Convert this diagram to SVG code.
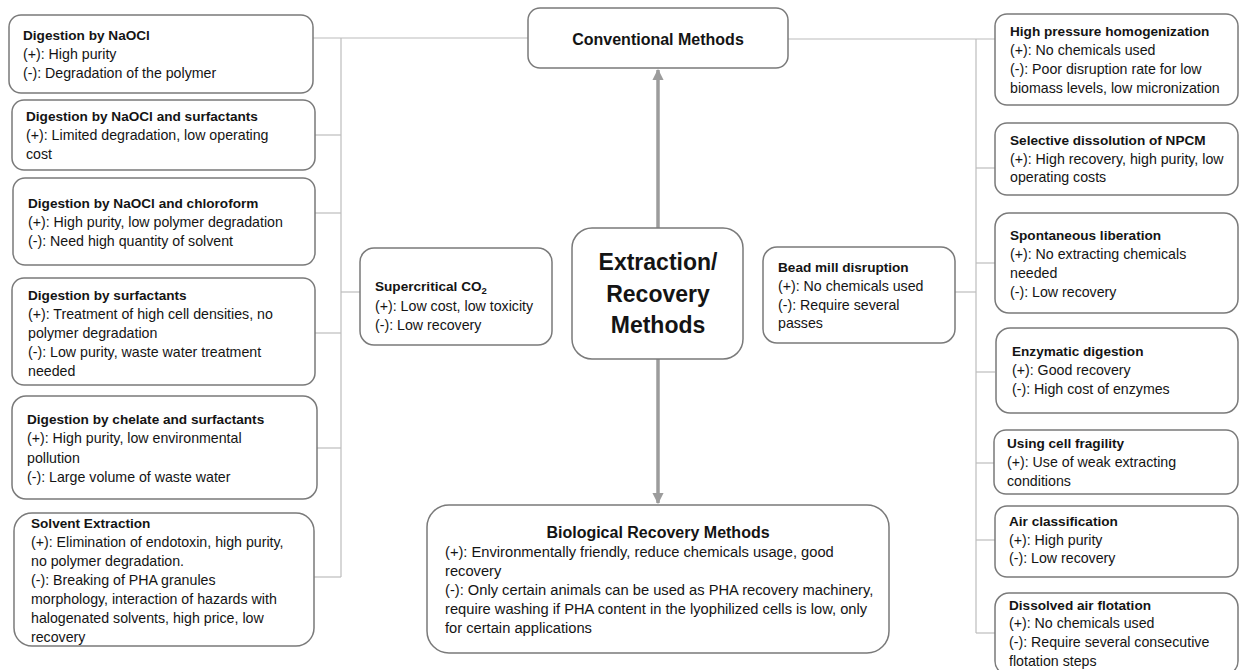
<svg xmlns="http://www.w3.org/2000/svg" width="1239" height="670" viewBox="0 0 1239 670">
<style>
.box{fill:#fff;stroke:#7a7a7a;stroke-width:1.5}
.t{font-family:"Liberation Sans",Arial,sans-serif;font-size:14.2px;fill:#141414}
.b{font-weight:bold;font-size:13.6px}
.conn{stroke:#bcbcbc;stroke-width:1.2;fill:none}
.arr{stroke:#9c9c9c;stroke-width:3.5;fill:none}
</style>
<defs>
<marker id="ah" viewBox="0 0 10 10" refX="9" refY="5" markerWidth="3.2" markerHeight="3.2" orient="auto-start-reverse" markerUnits="strokeWidth">
<path d="M0,0 L10,5 L0,10 Z" fill="#9c9c9c"/>
</marker>
</defs>
<rect width="1239" height="670" fill="#fff"/>
<g id="connectors">
<path class="conn" d="M313,38 H528"/>
<path class="conn" d="M341,38 V577"/>
<path class="conn" d="M315,135 H341"/>
<path class="conn" d="M315,213 H341"/>
<path class="conn" d="M341,292 H360"/>
<path class="conn" d="M315,333 H341"/>
<path class="conn" d="M317,448 H341"/>
<path class="conn" d="M314,577 H341"/>
<path class="conn" d="M788,39 H995"/>
<path class="conn" d="M976,39 V633"/>
<path class="conn" d="M976,168 H995"/>
<path class="conn" d="M976,263 H995"/>
<path class="conn" d="M955,292 H976"/>
<path class="conn" d="M976,372 H995"/>
<path class="conn" d="M976,463 H995"/>
<path class="conn" d="M976,540 H995"/>
<path class="conn" d="M976,633 H995"/>
<line class="arr" x1="658" y1="228" x2="658" y2="70" marker-end="url(#ah)"/>
<line class="arr" x1="658" y1="359" x2="658" y2="503" marker-end="url(#ah)"/>
</g>
<g id="conventional">
<rect class="box" x="528" y="8" width="260" height="60" rx="12"/>
<text class="t" x="658" y="45" text-anchor="middle" style="font-weight:bold;font-size:16px">Conventional Methods</text>
</g>
<g id="center">
<rect class="box" x="572" y="228" width="171" height="131" rx="20"/>
<text class="t" text-anchor="middle" style="font-weight:bold;font-size:23px"><tspan x="658" y="270">Extraction/</tspan><tspan x="658" y="302">Recovery</tspan><tspan x="658" y="333">Methods</tspan></text>
</g>
<g id="biological">
<rect class="box" x="427" y="505" width="462" height="148" rx="22"/>
<text class="t" x="658" y="538" text-anchor="middle" style="font-weight:bold;font-size:16px">Biological Recovery Methods</text>
<text class="t" style="font-size:14.7px"><tspan x="445" y="557">(+): Environmentally friendly, reduce chemicals usage, good</tspan><tspan x="445" y="576">recovery</tspan><tspan x="445" y="595">(-): Only certain animals can be used as PHA recovery machinery,</tspan><tspan x="445" y="614">require washing if PHA content in the lyophilized cells is low, only</tspan><tspan x="445" y="633">for certain applications</tspan></text>
</g>
<g id="naocl">
<rect class="box" x="9" y="15" width="304" height="78" rx="12"/>
<text class="t b" x="23" y="40">Digestion by NaOCl</text>
<text class="t"><tspan x="23" y="59">(+): High purity</tspan><tspan x="23" y="78">(-): Degradation of the polymer</tspan></text>
</g>
<g id="naocl-surfactants">
<rect class="box" x="12" y="100" width="303" height="70" rx="12"/>
<text class="t b" x="26" y="121">Digestion by NaOCl and surfactants</text>
<text class="t"><tspan x="26" y="140">(+): Limited degradation, low operating</tspan><tspan x="26" y="159">cost</tspan></text>
</g>
<g id="naocl-chloroform">
<rect class="box" x="13" y="178" width="302" height="87" rx="12"/>
<text class="t b" x="28" y="208">Digestion by NaOCl and chloroform</text>
<text class="t"><tspan x="28" y="227">(+): High purity, low polymer degradation</tspan><tspan x="28" y="246">(-): Need high quantity of solvent</tspan></text>
</g>
<g id="surfactants">
<rect class="box" x="12" y="278" width="303" height="107" rx="12"/>
<text class="t b" x="28" y="300">Digestion by surfactants</text>
<text class="t"><tspan x="28" y="319">(+): Treatment of high cell densities, no</tspan><tspan x="28" y="338">polymer degradation</tspan><tspan x="28" y="357">(-): Low purity, waste water treatment</tspan><tspan x="28" y="376">needed</tspan></text>
</g>
<g id="chelate">
<rect class="box" x="12" y="396" width="305" height="103" rx="14"/>
<text class="t b" x="27" y="424">Digestion by chelate and surfactants</text>
<text class="t"><tspan x="27" y="443">(+): High purity, low environmental</tspan><tspan x="27" y="463">pollution</tspan><tspan x="27" y="482">(-): Large volume of waste water</tspan></text>
</g>
<g id="solvent">
<rect class="box" x="14" y="513" width="300" height="133" rx="18"/>
<text class="t b" x="31" y="528">Solvent Extraction</text>
<text class="t"><tspan x="31" y="547">(+): Elimination of endotoxin, high purity,</tspan><tspan x="31" y="566">no polymer degradation.</tspan><tspan x="31" y="585">(-): Breaking of PHA granules</tspan><tspan x="31" y="604">morphology, interaction of hazards with</tspan><tspan x="31" y="623">halogenated solvents, high price, low</tspan><tspan x="31" y="642">recovery</tspan></text>
</g>
<g id="supercritical">
<rect class="box" x="360" y="248" width="192" height="97" rx="14"/>
<text class="t b" x="375" y="291">Supercritical CO<tspan dy="3" style="font-size:9.5px">2</tspan></text>
<text class="t"><tspan x="375" y="311">(+): Low cost, low toxicity</tspan><tspan x="375" y="330">(-): Low recovery</tspan></text>
</g>
<g id="bead-mill">
<rect class="box" x="763" y="247" width="192" height="96" rx="14"/>
<text class="t b" x="778" y="272">Bead mill disruption</text>
<text class="t"><tspan x="778" y="291">(+): No chemicals used</tspan><tspan x="778" y="310">(-): Require several</tspan><tspan x="778" y="328">passes</tspan></text>
</g>
<g id="hp-homogenization">
<rect class="box" x="995" y="14" width="243" height="91" rx="12"/>
<text class="t b" x="1010" y="36">High pressure homogenization</text>
<text class="t"><tspan x="1010" y="55">(+): No chemicals used</tspan><tspan x="1010" y="74">(-): Poor disruption rate for low</tspan><tspan x="1010" y="93">biomass levels, low micronization</tspan></text>
</g>
<g id="npcm">
<rect class="box" x="995" y="123" width="243" height="72" rx="12"/>
<text class="t b" x="1010" y="145">Selective dissolution of NPCM</text>
<text class="t"><tspan x="1010" y="164">(+): High recovery, high purity, low</tspan><tspan x="1010" y="182">operating costs</tspan></text>
</g>
<g id="spontaneous">
<rect class="box" x="995" y="213" width="243" height="100" rx="14"/>
<text class="t b" x="1010" y="240">Spontaneous liberation</text>
<text class="t"><tspan x="1010" y="259">(+): No extracting chemicals</tspan><tspan x="1010" y="278">needed</tspan><tspan x="1010" y="297">(-): Low recovery</tspan></text>
</g>
<g id="enzymatic">
<rect class="box" x="996" y="328" width="242" height="85" rx="14"/>
<text class="t b" x="1012" y="356">Enzymatic digestion</text>
<text class="t"><tspan x="1012" y="375">(+): Good recovery</tspan><tspan x="1012" y="394">(-): High cost of enzymes</tspan></text>
</g>
<g id="fragility">
<rect class="box" x="994" y="430" width="244" height="64" rx="12"/>
<text class="t b" x="1007" y="448">Using cell fragility</text>
<text class="t"><tspan x="1007" y="467">(+): Use of weak extracting</tspan><tspan x="1007" y="486">conditions</tspan></text>
</g>
<g id="air-classification">
<rect class="box" x="995" y="506" width="243" height="71" rx="12"/>
<text class="t b" x="1009" y="526">Air classification</text>
<text class="t"><tspan x="1009" y="545">(+): High purity</tspan><tspan x="1009" y="563">(-): Low recovery</tspan></text>
</g>
<g id="flotation">
<rect class="box" x="995" y="593" width="243" height="82" rx="14"/>
<text class="t b" x="1009" y="610">Dissolved air flotation</text>
<text class="t"><tspan x="1009" y="628">(+): No chemicals used</tspan><tspan x="1009" y="647">(-): Require several consecutive</tspan><tspan x="1009" y="666">flotation steps</tspan></text>
</g>
</svg>
